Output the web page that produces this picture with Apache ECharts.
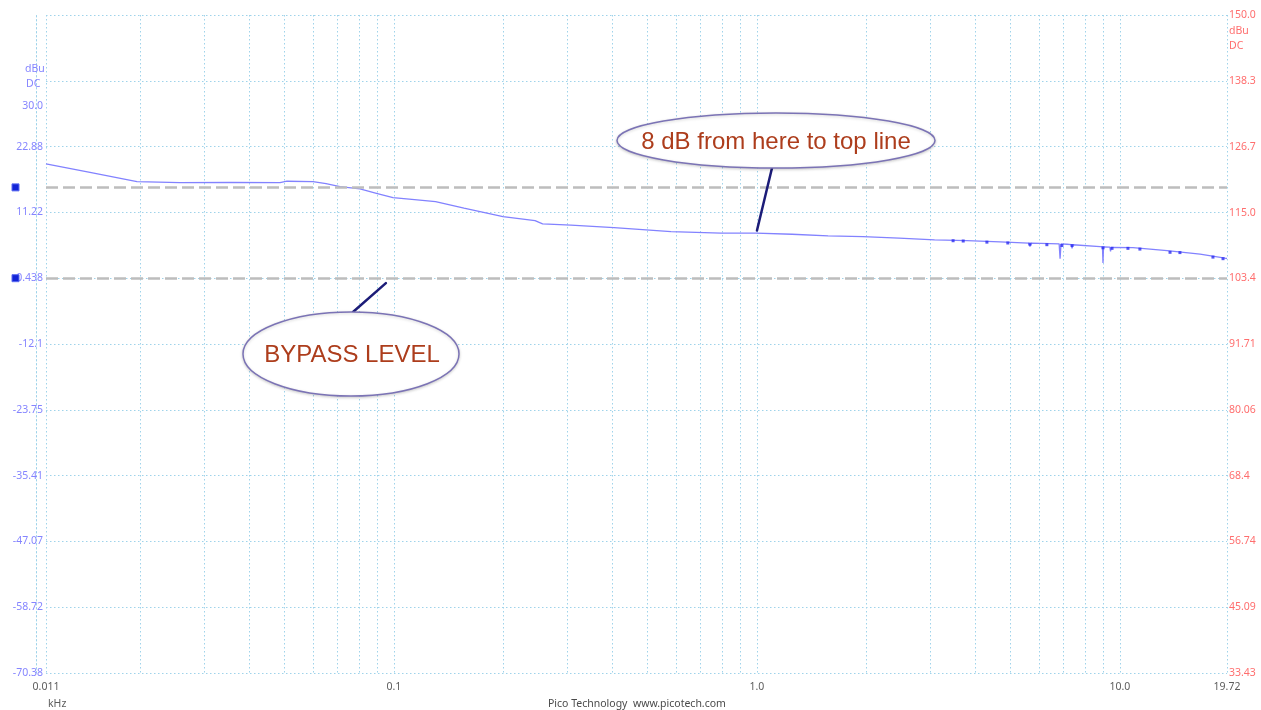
<!DOCTYPE html>
<html>
<head>
<meta charset="utf-8">
<script src="https://cdn.jsdelivr.net/npm/echarts@6/dist/echarts.min.js"></script>
<style>
  html, body { margin: 0; padding: 0; background: #ffffff; }
  #chart { width: 1261px; height: 710px; }
</style>
</head>
<body>
<div id="chart"></div>
<script>
// Spectrum sweep: level in dBu against frequency in kHz (log scale)
const freqKHz = [
  0.011, 0.01454, 0.01959, 0.02573, 0.03535, 0.04853, 0.05073, 0.05983, 0.0650, 0.0710,
  0.0806, 0.0900, 0.0994, 0.1120, 0.1302, 0.1559, 0.1997, 0.2447, 0.2567, 0.3073,
  0.4038, 0.5798, 0.7960, 0.9939, 1.249, 1.570, 1.959, 2.462, 3.086, 3.790,
  4.672, 5.60, 5.65, 5.70, 6.80, 6.84, 6.88, 7.146, 7.34, 7.38,
  7.42, 8.813, 8.95, 8.98, 9.01, 9.38, 9.42, 9.46, 10.86, 13.48,
  16.62, 19.47, 19.72
];
const levelDBu = [
  19.80, 18.30, 16.67, 16.49, 16.53, 16.49, 16.74, 16.67, 16.30, 15.78,
  15.37, 14.56, 13.83, 13.52, 13.13, 11.96, 10.47, 9.76, 9.18, 8.95,
  8.52, 7.81, 7.53, 7.53, 7.35, 7.05, 6.93, 6.65, 6.34, 6.22,
  5.99, 5.78, 5.20, 5.77, 5.64, 3.03, 5.63, 5.58, 5.50, 4.85,
  5.49, 5.16, 5.12, 2.27, 5.11, 5.05, 4.30, 5.04, 4.98, 4.45,
  3.81, 3.10, 3.05
];

// Dense noise clusters sitting on the upper part of the sweep
const noiseFreqKHz = [3.47, 3.70, 4.30, 4.91, 5.65, 6.29, 6.92, 7.38, 8.98, 9.51, 10.52, 11.35, 13.74, 14.63, 18.04, 19.23];
const noiseDBu     = [6.20, 6.15, 5.95, 5.80, 5.60, 5.50, 5.35, 5.35, 4.95, 4.85, 4.85, 4.72, 4.15, 4.10, 3.30, 3.02];

// Reference levels (dashed rulers)
const referenceDBu = [15.65, -0.438];

// Axis ticks
const xGridKHz = [0.011, 0.02, 0.03, 0.04, 0.05, 0.06, 0.07, 0.08, 0.09,
  0.1, 0.2, 0.3, 0.4, 0.5, 0.6, 0.7, 0.8, 0.9,
  1, 2, 3, 4, 5, 6, 7, 8, 9, 10, 19.72];
const xTickKHz = [0.011, 0.1, 1, 10, 19.72];
const xTickLabels = ['0.011', '0.1', '1.0', '10.0', '19.72'];

const leftTickDBu = [-70.38, -58.72, -47.07, -35.41, -23.75, -12.1, -0.438, 11.22, 22.88, 30.0];
const leftTickLabels = ['-70.38', '-58.72', '-47.07', '-35.41', '-23.75', '-12.1', '-0.438', '11.22', '22.88', '30.0'];

const rightTickDBu = [33.43, 45.09, 56.74, 68.4, 80.06, 91.71, 103.4, 115.0, 126.7, 138.3, 150.0];
const rightTickLabels = ['33.43', '45.09', '56.74', '68.4', '80.06', '91.71', '103.4', '115.0', '126.7', '138.3', '150.0'];

function labelFor(v, values, labels) {
  let best = 0, err = Infinity;
  for (let i = 0; i < values.length; i++) {
    const e = Math.abs(values[i] - v) / Math.max(Math.abs(values[i]), 1e-9);
    if (e < err) { err = e; best = i; }
  }
  return err < 1e-3 ? labels[best] : '';
}

const AXIS_FONT = 'Noto Sans';
const GRID_COLOR = '#9fd3ea';
const gridDots = { color: GRID_COLOR, width: 1, type: [1.5, 2.5] };

const chart = echarts.init(document.getElementById('chart'), null, { renderer: 'canvas' });

const option = {
  animation: false,
  backgroundColor: '#ffffff',
  grid: { left: 46, right: 34, top: 15, bottom: 37, containLabel: false, outerBoundsMode: 'none' },
  xAxis: {
    type: 'log',
    logBase: 10,
    min: 0.011,
    max: 19.72,
    axisLine: { show: false },
    axisTick: { show: false, customValues: xGridKHz },
    axisLabel: {
      customValues: xTickKHz,
      formatter: v => labelFor(v, xTickKHz, xTickLabels),
      color: '#5c5c5c', fontSize: 10.5, fontFamily: AXIS_FONT, margin: 9
    },
    splitLine: { show: true, lineStyle: gridDots },
    minorTick: { show: false },
    minorSplitLine: { show: false }
  },
  yAxis: [
    {
      type: 'value',
      position: 'left',
      min: -70.38,
      max: 46.19,
      offset: 10,
      axisLine: { show: true, lineStyle: gridDots },
      axisTick: { show: false, customValues: leftTickDBu },
      axisLabel: {
        customValues: leftTickDBu,
        formatter: v => labelFor(v, leftTickDBu, leftTickLabels),
        color: '#8585ff', fontSize: 10.5, fontFamily: AXIS_FONT, margin: -7
      },
      splitLine: { show: false }
    },
    {
      type: 'value',
      position: 'right',
      min: 33.43,
      max: 150.0,
      axisLine: { show: false },
      axisTick: { show: false, customValues: rightTickDBu },
      axisLabel: {
        customValues: rightTickDBu,
        formatter: v => labelFor(v, rightTickDBu, rightTickLabels),
        color: '#ff6e6e', fontSize: 10.5, fontFamily: AXIS_FONT, margin: 2
      },
      splitLine: { show: true, lineStyle: gridDots }
    }
  ],
  series: [
    {
      name: 'Level',
      type: 'line',
      xAxisIndex: 0,
      yAxisIndex: 0,
      data: freqKHz.map((f, i) => [f, levelDBu[i]]),
      showSymbol: false,
      smooth: false,
      lineStyle: { color: '#8282ff', width: 1.3 },
      z: 3,
      markLine: {
        silent: true,
        symbol: ['none', 'none'],
        label: { show: false },
        lineStyle: { color: '#bdbdbd', width: 2.5, type: [12, 5] },
        data: referenceDBu.map(v => ({ yAxis: v }))
      }
    },
    {
      name: 'Noise',
      type: 'scatter',
      xAxisIndex: 0,
      yAxisIndex: 0,
      data: noiseFreqKHz.map((f, i) => [f, noiseDBu[i]]),
      symbol: 'rect',
      symbolSize: [3, 3],
      itemStyle: { color: '#2a2cf0' },
      z: 4
    }
  ]
};

chart.setOption(option);

// Annotation layer: callouts anchored to data positions
const toPx = (f, v) => chart.convertToPixel({ seriesIndex: 0 }, [f, v]);
const tip1 = toPx(1.0, 8.0);
const tip2 = toPx(0.095, -1.3);
const refTop = toPx(0.011, referenceDBu[0]);
const refBottom = toPx(0.011, referenceDBu[1]);

const calloutText = { fill: '#ad3d1c', font: '24px "Liberation Sans", Arial, sans-serif', align: 'center', verticalAlign: 'middle' };
const calloutShape = { fill: '#ffffff', stroke: '#7b73b5', lineWidth: 1.5, shadowBlur: 3, shadowColor: 'rgba(0,0,0,0.18)', shadowOffsetY: 1 };
const pointer = { stroke: '#1c1c78', lineWidth: 2.5, lineCap: 'round' };
const axisText = (x, y, text, color, align) => ({
  type: 'text', x: x, y: y, z: 50,
  style: { text: text, fill: color, font: '10.5px "' + AXIS_FONT + '"', align: align || 'left', verticalAlign: 'middle' }
});

chart.setOption({
  graphic: [
    // level markers on the left ruler
    { type: 'rect', z: 60, shape: { x: 12, y: refTop[1] - 3.5, width: 7, height: 7 }, style: { fill: '#1224d6', stroke: '#5a6af2', lineWidth: 1 } },
    { type: 'rect', z: 60, shape: { x: 12, y: refBottom[1] - 3.5, width: 7, height: 7 }, style: { fill: '#1224d6', stroke: '#5a6af2', lineWidth: 1 } },
    // unit captions
    axisText(25, 69, 'dBu', '#8585ff'),
    axisText(26, 84, 'DC', '#8585ff'),
    axisText(1229, 31, 'dBu', '#ff6e6e'),
    axisText(1229, 46, 'DC', '#ff6e6e'),
    axisText(48, 704, 'kHz', '#5c5c5c'),
    axisText(548, 704, 'Pico Technology  www.picotech.com', '#4a4a4a'),
    // callout: level difference
    { type: 'line', z: 70, shape: { x1: 772, y1: 168, x2: tip1[0], y2: tip1[1] }, style: pointer },
    { type: 'ellipse', z: 71, shape: { cx: 776, cy: 140.5, rx: 159, ry: 27.5 }, style: calloutShape },
    { type: 'text', z: 72, x: 776, y: 142, style: Object.assign({ text: '8 dB from here to top line' }, calloutText) },
    // callout: bypass level
    { type: 'line', z: 70, shape: { x1: 353, y1: 312, x2: tip2[0], y2: tip2[1] }, style: pointer },
    { type: 'ellipse', z: 71, shape: { cx: 351, cy: 354, rx: 108, ry: 42 }, style: calloutShape },
    { type: 'text', z: 72, x: 352, y: 355, style: Object.assign({ text: 'BYPASS LEVEL' }, calloutText) }
  ]
});
</script>
</body>
</html>
